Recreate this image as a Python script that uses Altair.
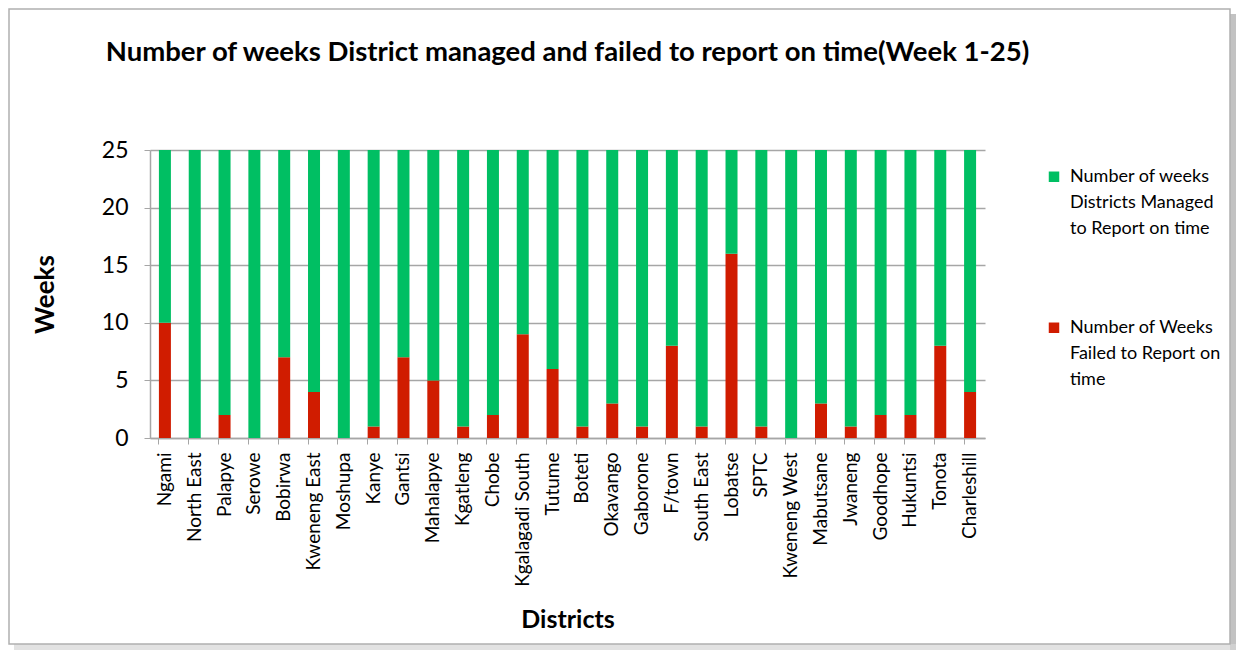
import altair as alt
import pandas as pd

districts = ["Ngami", "North East", "Palapye", "Serowe", "Bobirwa", "Kweneng East", "Moshupa",
             "Kanye", "Gantsi", "Mahalapye", "Kgatleng", "Chobe", "Kgalagadi South", "Tutume",
             "Boteti", "Okavango", "Gaborone", "F/town", "South East", "Lobatse", "SPTC",
             "Kweneng West", "Mabutsane", "Jwaneng", "Goodhope", "Hukuntsi", "Tonota", "Charleshill"]
failed = [10, 0, 2, 0, 7, 4, 0, 1, 7, 5, 1, 2, 9, 6, 1, 3, 1, 8, 1, 16, 1, 0, 3, 1, 2, 2, 8, 4]
managed = [15, 25, 23, 25, 18, 21, 25, 24, 18, 20, 24, 23, 16, 19, 24, 22, 24, 17, 24, 9, 24, 25, 22, 24, 23, 23, 17, 21]

s_managed = "Number of weeks Districts Managed to Report on time"
s_failed = "Number of Weeks Failed to Report on time"
series = [s_managed, s_failed]
colors = ["#00BF63", "#D01C00"]

rows = []
for d, f, m in zip(districts, failed, managed):
    rows.append({"District": d, "Series": s_failed, "Weeks": f, "ord": 0})
    rows.append({"District": d, "Series": s_managed, "Weeks": m, "ord": 1})
df = pd.DataFrame(rows)

FONT = "Lato"

label_expr = ("datum.label == '" + s_managed + "' ? ['Number of weeks', 'Districts Managed', 'to Report on time']"
              " : ['Number of Weeks', 'Failed to Report on', 'time']")

frame_df = pd.DataFrame({"k": [0]})

shadow_right = alt.Chart(frame_df).mark_rect(color="#9A9A9A", opacity=0.6).encode(
    x=alt.value(1080), x2=alt.value(1086), y=alt.value(-136), y2=alt.value(500))
shadow_bottom = alt.Chart(frame_df).mark_rect(color="#D5D5D5", opacity=0.7).encode(
    x=alt.value(-136), x2=alt.value(1086), y=alt.value(494), y2=alt.value(500))
frame = alt.Chart(frame_df).mark_rect(fillOpacity=0, stroke="#B0B0B0", strokeWidth=1.5).encode(
    x=alt.value(-141), x2=alt.value(1080), y=alt.value(-141), y2=alt.value(494))

bars = alt.Chart(df).mark_bar(width=12).encode(
    x=alt.X("District:N", sort=districts, title="Districts",
            scale=alt.Scale(paddingInner=0.6, paddingOuter=0.3),
            axis=alt.Axis(labelAngle=-90, labelFontSize=19, labelPadding=8, titleFontSize=25,
                          titleFontWeight="bold", titlePadding=21, bandPosition=0,
                          tickColor="#A6A6A6", tickSize=6, domainColor="#A6A6A6", domainWidth=1.5,
                          labelColor="#000000", titleColor="#000000")),
    y=alt.Y("Weeks:Q", title="Weeks", stack="zero",
            scale=alt.Scale(domain=[0, 25], nice=False),
            axis=alt.Axis(values=[0, 5, 10, 15, 20, 25], labelFontSize=23, labelPadding=16,
                          titleFontSize=26, titleFontWeight="bold", titlePadding=43,
                          gridColor="#A6A6A6", gridWidth=1.5, tickColor="#A6A6A6", tickSize=6,
                          domainColor="#A6A6A6", domainWidth=1.5,
                          labelColor="#000000", titleColor="#000000")),
    color=alt.Color("Series:N", scale=alt.Scale(domain=series, range=colors),
                    legend=alt.Legend(title=None, orient="none", legendX=895, legendY=23,
                                      labelFontSize=18, labelLimit=300,
                                      symbolType="M-1,-2L1,-2L1,0L-1,0Z",
                                      symbolSize=110, symbolStrokeWidth=0, rowPadding=81,
                                      labelExpr=label_expr, labelBaseline="alphabetic",
                                      labelOffset=7, labelColor="#000000")),
    order=alt.Order("ord:Q"),
)

chart = alt.layer(shadow_right, shadow_bottom, frame, bars).properties(
    width=835, height=288,
    autosize=alt.AutoSizeParams(type="none"),
    padding={"left": 142, "top": 142, "right": 251, "bottom": 212},
    title=alt.TitleParams("Number of weeks District managed and failed to report on time(Week 1-25)",
                          fontSize=27.5, fontWeight="bold", offset=0, dy=58, anchor="middle",
                          frame="group", color="#000000"),
).configure(font=FONT, style={"guide-label": {"lineHeight": 26}}).configure_view(stroke=None)

chart.save("out.html", embed_options={"renderer": "svg", "actions": False})
